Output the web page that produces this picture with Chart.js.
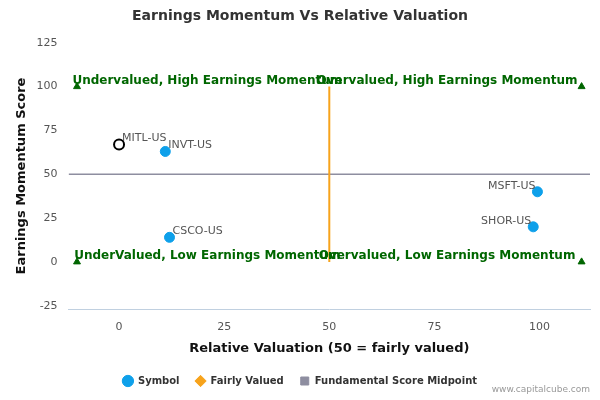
<!DOCTYPE html>
<html>
<head>
<meta charset="utf-8">
<script src="https://cdn.jsdelivr.net/npm/chart.js@4"></script>
<style>
  body { margin: 0; background: #fff; }
  #wrap { width: 600px; height: 400px; position: relative; }
  #credit { position: absolute; right: 10px; bottom: 6px; font: 9px "DejaVu Sans", sans-serif; color: #999; }
</style>
</head>
<body>
<div id="wrap"><canvas id="c" width="600" height="400"></canvas><div id="credit">www.capitalcube.com</div></div>
<script>
const symbols = ["MITL-US", "INVT-US", "CSCO-US", "MSFT-US", "SHOR-US"];
const valuation = [0, 11, 12, 99.5, 98.5];
const momentum = [67, 63, 14, 40, 20];
const corners = [[-10, 100], [110, 100], [-10, 0], [110, 0]];
const quadrantLabels = [
  ["Undervalued, High Earnings Momentum", 21, 100],
  ["Overvalued, High Earnings Momentum", 78, 100],
  ["UnderValued, Low Earnings Momentum", 21, 0],
  ["Overvalued, Low Earnings Momentum", 78, 0],
];
const fairLine = [[50, 0], [50, 100]];
const midLine = [[-12, 50], [112, 50]];
const xTicks = [0, 25, 50, 75, 100];
const yTicks = [-25, 0, 25, 50, 75, 100, 125];

const font = "DejaVu Sans";
Chart.defaults.font.family = font;

// point labels and quadrant captions
const labelPlugin = {
  id: "labels",
  afterDatasetsDraw(chart) {
    const { ctx, scales: { x, y } } = chart;
    ctx.save();
    ctx.font = "11px " + font;
    ctx.fillStyle = "#555";
    symbols.forEach((s, i) => {
      const px = x.getPixelForValue(valuation[i]);
      const py = y.getPixelForValue(momentum[i]);
      ctx.textAlign = valuation[i] > 50 ? "right" : "left";
      ctx.fillText(s, px + (valuation[i] > 50 ? -2 : 3), py - 6);
    });
    ctx.font = "bold 12px " + font;
    ctx.fillStyle = "#006600";
    ctx.textAlign = "center";
    quadrantLabels.forEach(([t, vx, vy]) => {
      ctx.fillText(t, x.getPixelForValue(vx), y.getPixelForValue(vy) - 6);
    });
    ctx.restore();
  }
};

new Chart(document.getElementById("c"), {
  type: "scatter",
  data: {
    datasets: [
      {
        label: "Symbol",
        data: valuation.map((v, i) => ({ x: v, y: momentum[i] })),
        backgroundColor: valuation.map((v, i) => i === 0 ? "#fff" : "#0ea0ea"),
        borderColor: valuation.map((v, i) => i === 0 ? "#000" : "#0ea0ea"),
        borderWidth: valuation.map((v, i) => i === 0 ? 2 : 1),
        pointRadius: 5,
      },
      {
        label: "Fairly Valued",
        data: fairLine.map(([a, b]) => ({ x: a, y: b })),
        showLine: true, borderColor: "#f7a31c", backgroundColor: "#f7a31c",
        borderWidth: 2, pointRadius: 0,
      },
      {
        label: "Fundamental Score Midpoint",
        data: midLine.map(([a, b]) => ({ x: a, y: b })),
        showLine: true, borderColor: "#8e8ea0", backgroundColor: "#8e8ea0",
        borderWidth: 1.5, pointRadius: 0,
      },
      {
        label: "corners",
        data: corners.map(([a, b]) => ({ x: a, y: b })),
        pointStyle: "triangle", pointRadius: 4,
        backgroundColor: "#006600", borderColor: "#006600",
      },
    ],
  },
  options: {
    responsive: false,
    animation: false,
    layout: { padding: { left: 10, right: 10, bottom: 4 } },
    plugins: {
      title: {
        display: true, text: "Earnings Momentum Vs Relative Valuation",
        font: { size: 14, weight: "bold" }, color: "#333", padding: { top: 8, bottom: 18 },
      },
      legend: {
        position: "bottom",
        labels: {
          filter: (it) => it.text !== "corners",
          usePointStyle: true, boxWidth: 10, boxHeight: 8,
          font: { size: 10, weight: "bold" }, color: "#333", padding: 16,
          generateLabels: (chart) => chart.data.datasets.map((d, i) => ({
            text: d.label, datasetIndex: i,
            pointStyle: ["circle", "rectRot", "rect", "triangle"][i],
            fillStyle: ["#0ea0ea", "#f7a31c", "#8e8ea0", "#006600"][i],
            strokeStyle: ["#0ea0ea", "#f7a31c", "#8e8ea0", "#006600"][i],
            lineWidth: 1, fontColor: "#333",
          })),
        },
      },
      tooltip: { enabled: false },
    },
    scales: {
      x: {
        min: -12, max: 112,
        afterBuildTicks: (s) => { s.ticks = xTicks.map(v => ({ value: v })); },
        grid: { display: false },
        border: { color: "#c0d0e0" },
        ticks: { color: "#555", font: { size: 11 } },
        title: { display: true, text: "Relative Valuation (50 = fairly valued)", font: { size: 13, weight: "bold" }, color: "#111" },
      },
      y: {
        min: -27, max: 125,
        afterBuildTicks: (s) => { s.ticks = yTicks.map(v => ({ value: v })); },
        grid: { display: false },
        border: { display: false },
        ticks: { color: "#555", font: { size: 11 } },
        title: { display: true, text: "Earnings Momentum Score", font: { size: 13, weight: "bold" }, color: "#111" },
      },
    },
  },
  plugins: [labelPlugin],
});
</script>
</body>
</html>
